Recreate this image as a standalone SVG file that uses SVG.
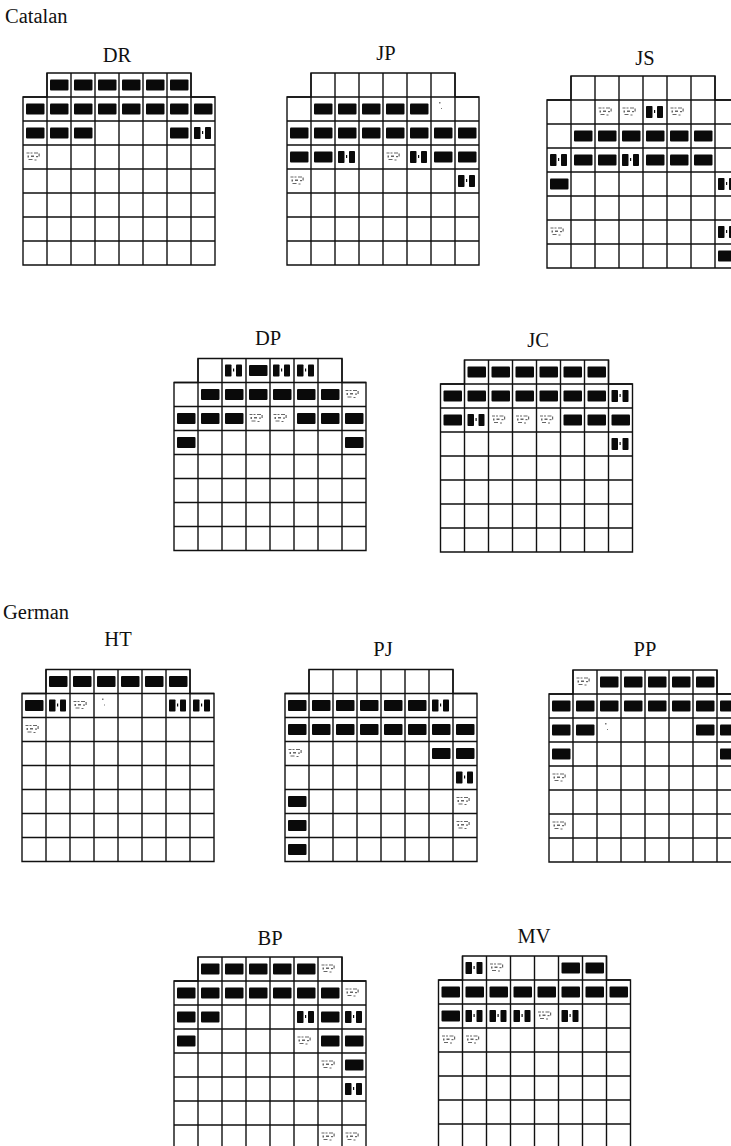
<svg xmlns="http://www.w3.org/2000/svg" xmlns:xlink="http://www.w3.org/1999/xlink" width="731" height="1146" viewBox="0 0 731 1146">
<style>
.bg{fill:#ffffff}
.lab{font-family:"Liberation Serif","Times New Roman",serif;font-size:20.5px;fill:#111}
.cap{font-family:"Liberation Serif","Times New Roman",serif;font-size:20.5px;fill:#111;text-anchor:middle}
.gl{fill:none;stroke:#111;stroke-width:1.4}
</style>
<defs>
<g id="grid">
<path class="gl" d="M24,0H168V24H192V192H0V24H24Z"/>
<path class="gl" d="M24,0V192M48,0V192M72,0V192M96,0V192M120,0V192M144,0V192M168,0V192M0,24H192M0,48H192M0,72H192M0,96H192M0,120H192M0,144H192M0,168H192"/>
</g>
<g id="F"><rect x="3" y="6.5" width="18.5" height="11" rx="1" fill="#0a0a0a"/></g>
<g id="H" fill="#0a0a0a"><rect x="3" y="6" width="6.5" height="12" rx="0.8"/><rect x="14" y="6" width="6" height="12" rx="0.8"/><rect x="11" y="10" width="1.2" height="3"/></g>
<g id="L" fill="#666"><rect x="3.5" y="7.5" width="3" height="1"/><rect x="7.5" y="7.5" width="2" height="1"/><rect x="11" y="7.5" width="4" height="1"/><rect x="4.5" y="10.5" width="1.5" height="2"/><rect x="8" y="10.5" width="3" height="1.5"/><rect x="13" y="11" width="2" height="1.2"/><rect x="5.5" y="14" width="4" height="1"/><rect x="11.5" y="14.5" width="2" height="1"/><rect x="15.5" y="8.5" width="1.2" height="3"/></g>
<g id="D" fill="#777"><rect x="8" y="5" width="1.5" height="1.5"/><rect x="10" y="11" width="1" height="1"/></g>
</defs>
<rect class="bg" x="0" y="0" width="731" height="1146"/>
<text class="lab" x="5" y="23">Catalan</text>
<text class="lab" x="3" y="619">German</text>

<g id="DR">
<text class="cap" x="117" y="62">DR</text>
<g transform="translate(23,73)">
<use href="#grid"/>
<use href="#F" x="24" y="0"/><use href="#F" x="48" y="0"/><use href="#F" x="72" y="0"/><use href="#F" x="96" y="0"/><use href="#F" x="120" y="0"/><use href="#F" x="144" y="0"/>
<use href="#F" x="0" y="24"/><use href="#F" x="24" y="24"/><use href="#F" x="48" y="24"/><use href="#F" x="72" y="24"/><use href="#F" x="96" y="24"/><use href="#F" x="120" y="24"/><use href="#F" x="144" y="24"/><use href="#F" x="168" y="24"/>
<use href="#F" x="0" y="48"/><use href="#F" x="24" y="48"/><use href="#F" x="48" y="48"/><use href="#F" x="144" y="48"/><use href="#H" x="168" y="48"/>
<use href="#L" x="0" y="72"/>
</g>
</g>

<g id="JP">
<text class="cap" x="386" y="60">JP</text>
<g transform="translate(287,73)">
<use href="#grid"/>
<use href="#F" x="24" y="24"/><use href="#F" x="48" y="24"/><use href="#F" x="72" y="24"/><use href="#F" x="96" y="24"/><use href="#F" x="120" y="24"/><use href="#D" x="144" y="24"/>
<use href="#F" x="0" y="48"/><use href="#F" x="24" y="48"/><use href="#F" x="48" y="48"/><use href="#F" x="72" y="48"/><use href="#F" x="96" y="48"/><use href="#F" x="120" y="48"/><use href="#F" x="144" y="48"/><use href="#F" x="168" y="48"/>
<use href="#F" x="0" y="72"/><use href="#F" x="24" y="72"/><use href="#H" x="48" y="72"/><use href="#L" x="96" y="72"/><use href="#H" x="120" y="72"/><use href="#F" x="144" y="72"/><use href="#F" x="168" y="72"/>
<use href="#L" x="0" y="96"/><use href="#H" x="168" y="96"/>
</g>
</g>

<g id="JS">
<text class="cap" x="645" y="65">JS</text>
<g transform="translate(547,76)">
<use href="#grid"/>
<use href="#L" x="48" y="24"/><use href="#L" x="72" y="24"/><use href="#H" x="96" y="24"/><use href="#L" x="120" y="24"/>
<use href="#F" x="24" y="48"/><use href="#F" x="48" y="48"/><use href="#F" x="72" y="48"/><use href="#F" x="96" y="48"/><use href="#F" x="120" y="48"/><use href="#F" x="144" y="48"/>
<use href="#H" x="0" y="72"/><use href="#F" x="24" y="72"/><use href="#F" x="48" y="72"/><use href="#H" x="72" y="72"/><use href="#F" x="96" y="72"/><use href="#F" x="120" y="72"/><use href="#F" x="144" y="72"/>
<use href="#F" x="0" y="96"/><use href="#H" x="168" y="96"/>
<use href="#L" x="0" y="144"/><use href="#H" x="168" y="144"/>
<use href="#F" x="168" y="168"/>
</g>
</g>

<g id="DP">
<text class="cap" x="268" y="345">DP</text>
<g transform="translate(174,358.5)">
<use href="#grid"/>
<use href="#H" x="48" y="0"/><use href="#F" x="72" y="0"/><use href="#H" x="96" y="0"/><use href="#H" x="120" y="0"/>
<use href="#F" x="24" y="24"/><use href="#F" x="48" y="24"/><use href="#F" x="72" y="24"/><use href="#F" x="96" y="24"/><use href="#F" x="120" y="24"/><use href="#F" x="144" y="24"/><use href="#L" x="168" y="24"/>
<use href="#F" x="0" y="48"/><use href="#F" x="24" y="48"/><use href="#F" x="48" y="48"/><use href="#L" x="72" y="48"/><use href="#L" x="96" y="48"/><use href="#F" x="120" y="48"/><use href="#F" x="144" y="48"/><use href="#F" x="168" y="48"/>
<use href="#F" x="0" y="72"/><use href="#F" x="168" y="72"/>
</g>
</g>

<g id="JC">
<text class="cap" x="538" y="347">JC</text>
<g transform="translate(440.5,360)">
<use href="#grid"/>
<use href="#F" x="24" y="0"/><use href="#F" x="48" y="0"/><use href="#F" x="72" y="0"/><use href="#F" x="96" y="0"/><use href="#F" x="120" y="0"/><use href="#F" x="144" y="0"/>
<use href="#F" x="0" y="24"/><use href="#F" x="24" y="24"/><use href="#F" x="48" y="24"/><use href="#F" x="72" y="24"/><use href="#F" x="96" y="24"/><use href="#F" x="120" y="24"/><use href="#F" x="144" y="24"/><use href="#H" x="168" y="24"/>
<use href="#F" x="0" y="48"/><use href="#H" x="24" y="48"/><use href="#L" x="48" y="48"/><use href="#L" x="72" y="48"/><use href="#L" x="96" y="48"/><use href="#F" x="120" y="48"/><use href="#F" x="144" y="48"/><use href="#F" x="168" y="48"/>
<use href="#H" x="168" y="72"/>
</g>
</g>

<g id="HT">
<text class="cap" x="118" y="646">HT</text>
<g transform="translate(22,669.5)">
<use href="#grid"/>
<use href="#F" x="24" y="0"/><use href="#F" x="48" y="0"/><use href="#F" x="72" y="0"/><use href="#F" x="96" y="0"/><use href="#F" x="120" y="0"/><use href="#F" x="144" y="0"/>
<use href="#F" x="0" y="24"/><use href="#H" x="24" y="24"/><use href="#L" x="48" y="24"/><use href="#D" x="72" y="24"/><use href="#H" x="144" y="24"/><use href="#H" x="168" y="24"/>
<use href="#L" x="0" y="48"/>
</g>
</g>

<g id="PJ">
<text class="cap" x="383" y="656">PJ</text>
<g transform="translate(285,669.5)">
<use href="#grid"/>
<use href="#F" x="0" y="24"/><use href="#F" x="24" y="24"/><use href="#F" x="48" y="24"/><use href="#F" x="72" y="24"/><use href="#F" x="96" y="24"/><use href="#F" x="120" y="24"/><use href="#H" x="144" y="24"/>
<use href="#F" x="0" y="48"/><use href="#F" x="24" y="48"/><use href="#F" x="48" y="48"/><use href="#F" x="72" y="48"/><use href="#F" x="96" y="48"/><use href="#F" x="120" y="48"/><use href="#F" x="144" y="48"/><use href="#F" x="168" y="48"/>
<use href="#L" x="0" y="72"/><use href="#F" x="144" y="72"/><use href="#F" x="168" y="72"/>
<use href="#H" x="168" y="96"/>
<use href="#F" x="0" y="120"/><use href="#L" x="168" y="120"/>
<use href="#F" x="0" y="144"/><use href="#L" x="168" y="144"/>
<use href="#F" x="0" y="168"/>
</g>
</g>

<g id="PP">
<text class="cap" x="645" y="656">PP</text>
<g transform="translate(549,670)">
<use href="#grid"/>
<use href="#L" x="24" y="0"/><use href="#F" x="48" y="0"/><use href="#F" x="72" y="0"/><use href="#F" x="96" y="0"/><use href="#F" x="120" y="0"/><use href="#F" x="144" y="0"/>
<use href="#F" x="0" y="24"/><use href="#F" x="24" y="24"/><use href="#F" x="48" y="24"/><use href="#F" x="72" y="24"/><use href="#F" x="96" y="24"/><use href="#F" x="120" y="24"/><use href="#F" x="144" y="24"/><use href="#F" x="168" y="24"/>
<use href="#F" x="0" y="48"/><use href="#F" x="24" y="48"/><use href="#D" x="48" y="48"/><use href="#F" x="144" y="48"/><use href="#F" x="168" y="48"/>
<use href="#F" x="0" y="72"/><use href="#F" x="168" y="72"/>
<use href="#L" x="0" y="96"/>
<use href="#L" x="0" y="144"/>
</g>
</g>

<g id="BP">
<text class="cap" x="270" y="945">BP</text>
<g transform="translate(174,957)">
<use href="#grid"/>
<use href="#F" x="24" y="0"/><use href="#F" x="48" y="0"/><use href="#F" x="72" y="0"/><use href="#F" x="96" y="0"/><use href="#F" x="120" y="0"/><use href="#L" x="144" y="0"/>
<use href="#F" x="0" y="24"/><use href="#F" x="24" y="24"/><use href="#F" x="48" y="24"/><use href="#F" x="72" y="24"/><use href="#F" x="96" y="24"/><use href="#F" x="120" y="24"/><use href="#F" x="144" y="24"/><use href="#L" x="168" y="24"/>
<use href="#F" x="0" y="48"/><use href="#F" x="24" y="48"/><use href="#H" x="120" y="48"/><use href="#F" x="144" y="48"/><use href="#H" x="168" y="48"/>
<use href="#F" x="0" y="72"/><use href="#L" x="120" y="72"/><use href="#F" x="144" y="72"/><use href="#F" x="168" y="72"/>
<use href="#L" x="144" y="96"/><use href="#F" x="168" y="96"/>
<use href="#H" x="168" y="120"/>
<use href="#L" x="144" y="168"/><use href="#L" x="168" y="168"/>
</g>
</g>

<g id="MV">
<text class="cap" x="534" y="943">MV</text>
<g transform="translate(438.5,956)">
<use href="#grid"/>
<use href="#H" x="24" y="0"/><use href="#L" x="48" y="0"/><use href="#F" x="120" y="0"/><use href="#F" x="144" y="0"/>
<use href="#F" x="0" y="24"/><use href="#F" x="24" y="24"/><use href="#F" x="48" y="24"/><use href="#F" x="72" y="24"/><use href="#F" x="96" y="24"/><use href="#F" x="120" y="24"/><use href="#F" x="144" y="24"/><use href="#F" x="168" y="24"/>
<use href="#F" x="0" y="48"/><use href="#H" x="24" y="48"/><use href="#H" x="48" y="48"/><use href="#H" x="72" y="48"/><use href="#L" x="96" y="48"/><use href="#H" x="120" y="48"/>
<use href="#L" x="0" y="72"/><use href="#L" x="24" y="72"/>
</g>
</g>

<g id="connectors"></g>
</svg>
